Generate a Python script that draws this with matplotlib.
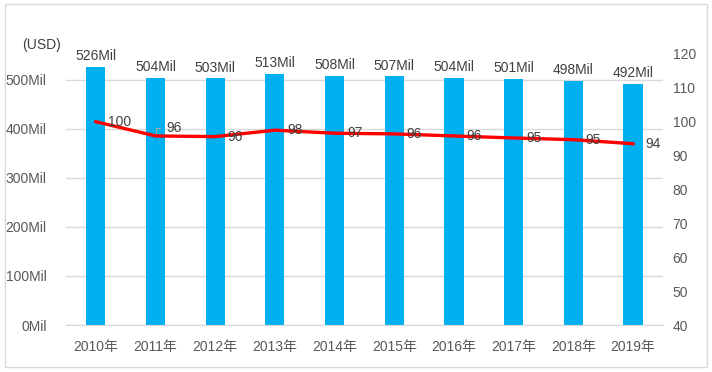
import matplotlib.pyplot as plt
from matplotlib.patches import Rectangle

plt.rcParams['font.family'] = ['Liberation Sans Narrow', 'Liberation Sans', 'Noto Sans CJK JP']

years = ['2010年', '2011年', '2012年', '2013年', '2014年',
         '2015年', '2016年', '2017年', '2018年', '2019年']
sales = [526, 504, 503, 513, 508, 507, 504, 501, 498, 492]   # Mil USD
index = [100, 95.8, 95.6, 97.5, 96.6, 96.4, 95.8, 95.2, 94.7, 93.5]
index_labels = ['100', '96', '96', '98', '97', '96', '96', '95', '95', '94']

bar_color = '#00B0F0'
text_color = '#404040'
tick_color = '#595959'
grid_color = '#D9D9D9'

fig = plt.figure(figsize=(7.12, 3.72), dpi=100)
ax = fig.add_axes([0.0927, 0.1263, 0.8383, 0.7287])
ax2 = ax.twinx()

x = list(range(len(years)))
ax.bar(x, sales, width=0.32, color=bar_color, zorder=2)
for xi, v in zip(x, sales):
    ax.annotate(f'{v}Mil', (xi, v), xytext=(0, 5), textcoords='offset points',
                ha='center', va='baseline', fontsize=10, color=text_color)

ax.set_xlim(-0.5, len(years) - 0.5)
ax.set_ylim(0, 553)
ax.set_yticks([0, 100, 200, 300, 400, 500])
ax.set_yticklabels([f'{v}Mil' for v in [0, 100, 200, 300, 400, 500]])
ax.set_xticks(x)
ax.set_xticklabels(years)
ax.grid(axis='y', color=grid_color, linewidth=1, zorder=0)
ax.set_axisbelow(True)
ax.tick_params(axis='y', length=0, pad=14, labelsize=10, labelcolor=tick_color)
ax.tick_params(axis='x', length=0, pad=11, labelsize=10, labelcolor=tick_color)
for s in ['top', 'right', 'left']:
    ax.spines[s].set_visible(False)
ax.spines['bottom'].set_color(grid_color)

ax2.plot(x, index, color='#FF0000', linewidth=2.4, zorder=3)
ax2.set_ylim(40, 120)
ax2.set_yticks(range(40, 121, 10))
ax2.tick_params(axis='y', length=0, pad=7, labelsize=10, labelcolor=tick_color)
for s in ax2.spines.values():
    s.set_visible(False)

for i, (xi, v, lab) in enumerate(zip(x, index, index_labels)):
    if i == 1:
        ax2.annotate(lab, (xi, v), xytext=(8, 6), textcoords='offset points',
                     ha='left', va='center', fontsize=10, color=text_color)
        ax2.plot([xi, xi, xi + 0.08], [v, v + 2.2, v + 2.2], color='#A6A6A6',
                 linewidth=0.8, zorder=2)
    else:
        ax2.annotate(lab, (xi, v), xytext=(9, 0), textcoords='offset points',
                     ha='left', va='center', fontsize=10, color=text_color)

fig.text(0.031, 0.868, '(USD)', fontsize=10, color=text_color)
fig.patches.append(Rectangle((0.007, 0.013), 0.986, 0.975, transform=fig.transFigure,
                             fill=False, edgecolor=grid_color, linewidth=1))

fig.savefig('out.png', dpi=100)
